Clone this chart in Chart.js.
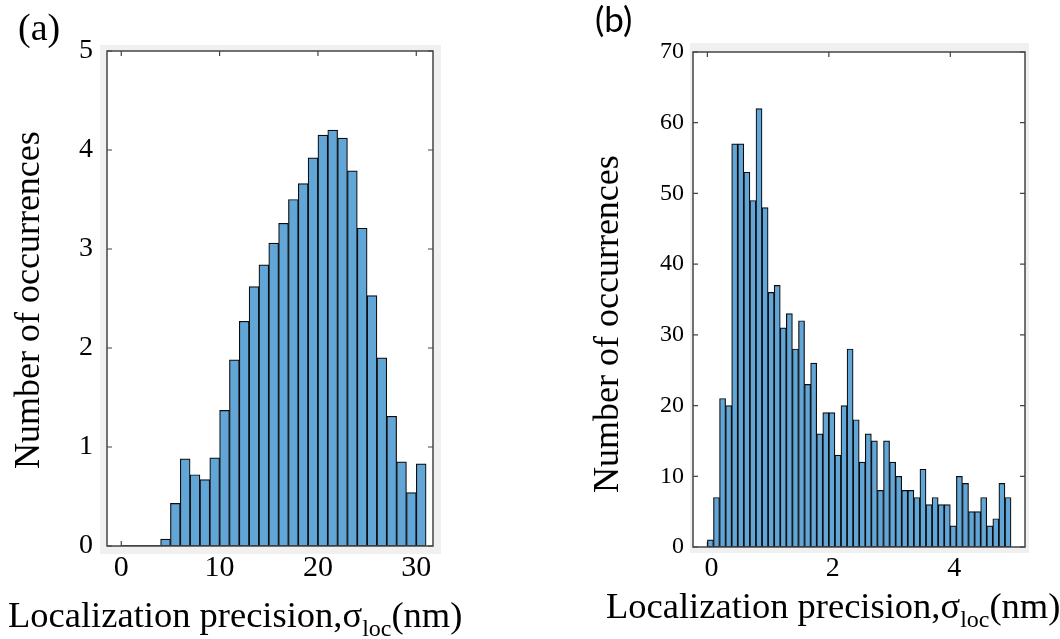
<!DOCTYPE html>
<html><head><meta charset="utf-8">
<script src="https://cdn.jsdelivr.net/npm/chart.js@4.4.1/dist/chart.umd.min.js"></script>
<style>
html,body{margin:0;padding:0;background:#fff;}
#wrap{position:relative;width:1060px;height:639px;overflow:hidden;font-family:"Liberation Serif","Times New Roman",serif;color:#000;}
.cv{position:absolute;top:0;width:530px;height:639px;}
#boxA{left:0;}
#boxB{left:530px;}
.lbl{position:absolute;white-space:nowrap;line-height:1;}
.xt{font-size:36.5px;}
.xt sub{font-size:24px;vertical-align:baseline;position:relative;top:9px;}
.yt{font-size:36px;transform-origin:0 0;transform:rotate(-90deg);}
</style></head>
<body><div id="wrap">
<div class="cv" id="boxA"><canvas id="cA" width="530" height="639"></canvas></div>
<div class="cv" id="boxB"><canvas id="cB" width="530" height="639"></canvas></div>
<div class="lbl" style="left:18px;top:8px;font-size:38px;">(a)</div>
<div class="lbl" style="left:595px;top:1px;font-size:35px;font-family:Lato,'Liberation Sans',sans-serif;">(b)</div>
<div class="lbl xt" style="left:8px;top:597px;">Localization precision,σ<sub>loc</sub>(nm)</div>
<div class="lbl xt" style="left:606px;top:588px;">Localization precision,σ<sub>loc</sub>(nm)</div>
<div class="lbl yt" style="left:9px;top:469px;">Number of occurrences</div>
<div class="lbl yt" style="left:588px;top:493px;">Number of occurrences</div>
</div>
<script>
// ---- Panel (a) data: histogram, bins of width 1 starting at 0 ----
const binStartA = 0;
const binWidthA = 1;
const countsA = [0, 0, 0, 0, 0.07, 0.43, 0.88, 0.72, 0.67, 0.89, 1.37, 1.88, 2.27, 2.62, 2.84, 3.06,
                 3.26, 3.50, 3.66, 3.92, 4.15, 4.20, 4.12, 3.79, 3.21, 2.53, 1.90, 1.31, 0.85, 0.54, 0.83];
const xTicksA = [0, 10, 20, 30];
const yTicksA = [0, 1, 2, 3, 4, 5];

// ---- Panel (b) data: histogram, bins of width 0.1 starting at 0 ----
const binStartB = 0;
const binWidthB = 0.1;
const countsB = [1, 7, 21, 20, 57, 57, 53, 49, 62, 48, 36, 37, 31, 33, 28, 32, 23, 26, 16, 19,
                 19, 13, 20, 28, 18, 12, 16, 15, 8, 15, 12, 10, 8, 8, 7, 11, 6, 7, 6, 6,
                 3, 10, 9, 5, 5, 7, 3, 4, 9, 7];
const xTicksB = [0, 2, 4];
const yTicksB = [0, 10, 20, 30, 40, 50, 60, 70];

const BAR_FILL = '#62a6d8';
const EDGE = '#0c0c0c';
const AXIS = '#444444';

const framePlugin = {
  id: 'frame',
  beforeDraw(chart, args, o) {
    const {ctx, chartArea: a} = chart;
    ctx.save();
    ctx.fillStyle = '#f0f0f0';
    ctx.fillRect(a.left - o.l, a.top - o.t, (a.right - a.left) + o.l + o.r, (a.bottom - a.top) + o.t + o.b);
    ctx.fillStyle = '#ffffff';
    ctx.fillRect(a.left, a.top, a.right - a.left, a.bottom - a.top);
    ctx.restore();
  },
  beforeDatasetsDraw(chart) {
    const {ctx, chartArea: a, scales} = chart;
    const L = 5;
    ctx.save();
    ctx.strokeStyle = AXIS;
    ctx.lineWidth = 1.2;
    ctx.beginPath();
    scales.x.ticks.forEach(t => {
      const p = scales.x.getPixelForValue(t.value);
      ctx.moveTo(p, a.bottom); ctx.lineTo(p, a.bottom - L);
      ctx.moveTo(p, a.top); ctx.lineTo(p, a.top + L);
    });
    scales.y.ticks.forEach(t => {
      const p = scales.y.getPixelForValue(t.value);
      ctx.moveTo(a.left, p); ctx.lineTo(a.left + L, p);
      ctx.moveTo(a.right, p); ctx.lineTo(a.right - L, p);
    });
    ctx.stroke();
    ctx.restore();
  },
  afterDatasetsDraw(chart) {
    const {ctx, chartArea: a} = chart;
    ctx.save();
    ctx.strokeStyle = AXIS;
    ctx.lineWidth = 1.5;
    ctx.strokeRect(a.left, a.top, a.right - a.left, a.bottom - a.top);
    ctx.restore();
  }
};

function histData(start, width, counts) {
  return counts.map((v, i) => ({x: start + (i + 0.5) * width, y: v}));
}
function zeroRun(start, width, counts) {
  let n = 0;
  while (n < counts.length && counts[n] === 0) n++;
  return n > 0 ? [{x: start, y: 0}, {x: start + n * width, y: 0}] : [];
}

function makeChart(id, cfg) {
  return new Chart(document.getElementById(id), {
    type: 'bar',
    data: {
      datasets: [
        {
          type: 'bar',
          data: histData(cfg.start, cfg.width, cfg.counts),
          backgroundColor: BAR_FILL,
          borderColor: EDGE,
          borderWidth: 1.2,
          borderSkipped: false,
          barPercentage: 1,
          categoryPercentage: 1,
          order: 2
        },
        {
          type: 'line',
          data: zeroRun(cfg.start, cfg.width, cfg.counts),
          borderColor: EDGE,
          borderWidth: 1.6,
          pointRadius: 0,
          fill: false,
          order: 1
        }
      ]
    },
    options: {
      responsive: false,
      devicePixelRatio: 1,
      animation: false,
      events: [],
      layout: {padding: {top: cfg.padTop, right: cfg.padRight, bottom: 0, left: 0}},
      plugins: {legend: {display: false}, tooltip: {enabled: false}, frame: cfg.frame},
      scales: {
        x: {
          type: 'linear',
          offset: false,
          min: cfg.xmin, max: cfg.xmax,
          grid: {display: false, drawTicks: false},
          border: {display: false},
          afterBuildTicks: s => { s.ticks = cfg.xTicks.map(v => ({value: v})); },
          afterFit: s => { s.height = cfg.xHeight; },
          ticks: {
            padding: cfg.xPad, maxRotation: 0, autoSkip: false, color: '#000',
            labelOffset: cfg.xLabelOffset,
            font: {family: 'Liberation Serif', size: cfg.xFont}
          }
        },
        y: {
          type: 'linear',
          min: cfg.ymin, max: cfg.ymax,
          grid: {display: false, drawTicks: false},
          border: {display: false},
          afterBuildTicks: s => { s.ticks = cfg.yTicks.map(v => ({value: v})); },
          afterFit: s => { s.width = cfg.yWidth; },
          ticks: {
            padding: cfg.yPad, color: '#000',
            font: {family: 'Liberation Serif', size: cfg.yFont}
          }
        }
      }
    },
    plugins: [framePlugin]
  });
}

makeChart('cA', {
  start: binStartA, width: binWidthA, counts: countsA,
  xTicks: xTicksA, yTicks: yTicksA,
  xmin: -1.45, xmax: 31.7, ymin: 0, ymax: 5,
  padTop: 51, padRight: 97, xHeight: 93, yWidth: 107,
  xPad: 4, yPad: 14, xFont: 30, yFont: 28, xLabelOffset: 0,
  frame: {l: 7, r: 8, t: 6, b: 8}
});
makeChart('cB', {
  start: binStartB, width: binWidthB, counts: countsB,
  xTicks: xTicksB, yTicks: yTicksB,
  xmin: -0.237, xmax: 5.23, ymin: 0, ymax: 70,
  padTop: 52, padRight: 35, xHeight: 92, yWidth: 163,
  xPad: 5, yPad: 9, xFont: 28, yFont: 24, xLabelOffset: 4,
  frame: {l: 3, r: 4, t: 9, b: 6}
});
</script>
</body></html>
